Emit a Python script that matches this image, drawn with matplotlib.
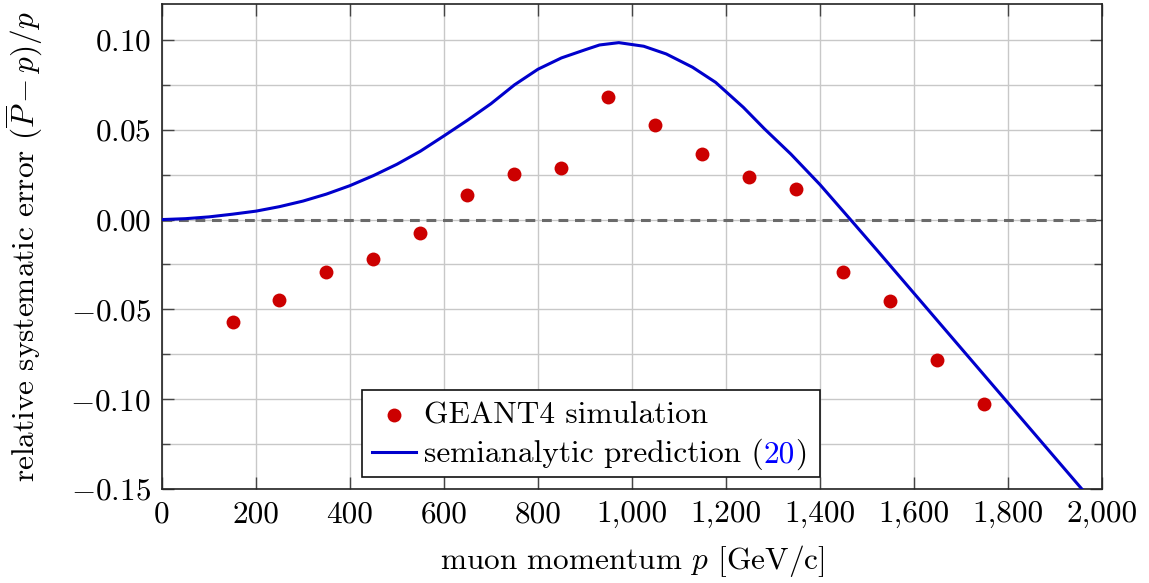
import matplotlib
matplotlib.use("Agg")
import matplotlib.pyplot as plt
from matplotlib.ticker import MultipleLocator, FixedLocator, FixedFormatter
from matplotlib.offsetbox import (AnchoredOffsetbox, VPacker, HPacker,
                                  TextArea, DrawingArea)
from matplotlib.lines import Line2D
from matplotlib.patches import Rectangle

# GEANT4 simulation points
sim_p = [150, 250, 350, 450, 550, 650, 750, 850, 950, 1050, 1150, 1250,
         1350, 1450, 1550, 1650, 1750]
sim_err = [-0.0572, -0.0450, -0.0294, -0.0222, -0.0074, 0.0137, 0.0256,
           0.0285, 0.0683, 0.0527, 0.0367, 0.0236, 0.0173, -0.0294,
           -0.0452, -0.0780, -0.1025]

# semianalytic prediction curve
pred_p = [0, 50, 100, 150, 200, 250, 300, 350, 400, 450, 500, 550, 600,
          650, 700, 750, 800, 850, 900, 931, 972, 1025, 1073, 1129, 1178,
          1237, 1282, 1338, 1400, 1465, 1521, 1600, 1700, 1800, 1900, 2000]
pred_err = [0.0, 0.0005, 0.0015, 0.0030, 0.0047, 0.0072, 0.0103, 0.0142,
            0.0189, 0.0245, 0.0308, 0.0381, 0.0466, 0.0553, 0.0645, 0.0750,
            0.0837, 0.0900, 0.0945, 0.0972, 0.0985, 0.0965, 0.0922, 0.0848,
            0.0764, 0.0625, 0.0505, 0.0365, 0.0195, 0.0, -0.0169, -0.0410,
            -0.0715, -0.1020, -0.1325, -0.1630]

x_ticks = [0, 200, 400, 600, 800, 1000, 1200, 1400, 1600, 1800, 2000]
x_tick_labels = ["0", "200", "400", "600", "800", "1,000", "1,200",
                 "1,400", "1,600", "1,800", "2,000"]
y_ticks = [-0.15, -0.10, -0.05, 0.0, 0.05, 0.10]
y_tick_labels = [r"$-0.15$", r"$-0.10$", r"$-0.05$", r"$0.00$", r"$0.05$",
                 r"$0.10$"]

RED = "#cc0000"
BLUE = "#0000cc"
FS = 22.5
W, H = 1149, 583
PX = 72 / 100  # points per pixel at 100 dpi

plt.rcParams["font.family"] = "serif"
plt.rcParams["font.serif"] = ["cmr10", "DejaVu Serif"]
plt.rcParams["mathtext.fontset"] = "cm"
plt.rcParams["axes.unicode_minus"] = False

fig = plt.figure(figsize=(W / 100, H / 100), dpi=100)
ax = fig.add_axes([0.141, 0.1612, 0.818, 0.8319])

ax.set_xlim(0, 2000)
ax.set_ylim(-0.15, 0.12)

ax.xaxis.set_major_locator(FixedLocator(x_ticks))
ax.xaxis.set_major_formatter(FixedFormatter(x_tick_labels))
ax.yaxis.set_major_locator(FixedLocator(y_ticks))
ax.yaxis.set_major_formatter(FixedFormatter(y_tick_labels))
ax.yaxis.set_minor_locator(MultipleLocator(0.025))

ax.grid(True, which="major", color="#c8c8c8", linewidth=1.0, zorder=0)
ax.grid(True, which="minor", axis="y", color="#c8c8c8", linewidth=1.0,
        zorder=0)
ax.set_axisbelow(True)

ax.tick_params(which="both", direction="in", top=True, right=True,
               color="#444444", width=1.0, labelsize=FS)
ax.tick_params(which="major", length=8.5, pad=8)
ax.tick_params(which="minor", length=5.5)
for s in ax.spines.values():
    s.set_linewidth(1.2)
    s.set_color("#222222")

ax.axhline(0, color="#6a6a6a", linewidth=2.2, dashes=(3.2, 2.2), zorder=2)
ax.plot(pred_p, pred_err, color=BLUE, linewidth=2.2, zorder=3)
ax.plot(sim_p, sim_err, "o", color=RED, markersize=10, markeredgewidth=0,
        zorder=4)

ax.set_xlabel(r"muon momentum $p$ [GeV/c]", fontsize=FS, labelpad=11)
ax.set_ylabel(r"relative systematic error $(\overline{P}-p)/p$",
              fontsize=FS, labelpad=18)

# legend assembled from offset boxes so the reference number can be blue
txt_props = dict(fontsize=FS, family="serif")
HW = 44 * PX  # handle width


def handle_marker():
    da = DrawingArea(HW, 16, 0, 0)
    da.add_artist(Line2D([HW / 2], [9 * PX], marker="o", color=RED,
                         markersize=10, markeredgewidth=0, linestyle="none"))
    return da


def handle_line():
    da = DrawingArea(HW, 16, 0, 0)
    da.add_artist(Line2D([0, HW], [10 * PX, 10 * PX], color=BLUE,
                         linewidth=2.2))
    return da


row1 = HPacker(children=[handle_marker(),
                         TextArea("GEANT4 simulation", textprops=txt_props)],
               align="baseline", pad=0, sep=8 * PX)
label2 = HPacker(children=[TextArea("semianalytic prediction (",
                                    textprops=txt_props),
                           TextArea("20", textprops=dict(txt_props,
                                                         color="#0000ff")),
                           TextArea(")", textprops=txt_props)],
                 align="baseline", pad=0, sep=0)
row2 = HPacker(children=[handle_line(), label2],
               align="baseline", pad=0, sep=8 * PX)
box = VPacker(children=[row1, row2], align="left", pad=0, sep=9.25 * PX)
leg = AnchoredOffsetbox(loc="lower left", child=box, pad=0, borderpad=0,
                        frameon=False,
                        bbox_to_anchor=(372 / W, 112.5 / H),
                        bbox_transform=fig.transFigure)
leg.set_zorder(6)
ax.add_artist(leg)

# legend frame
frame = Rectangle((362 / W, (H - 477) / H), (820 - 362) / W, (477 - 390) / H,
                  transform=fig.transFigure, facecolor="white",
                  edgecolor="#111111", linewidth=1.2, zorder=5,
                  clip_on=False)
ax.add_artist(frame)

fig.savefig("out.png", dpi=100)
